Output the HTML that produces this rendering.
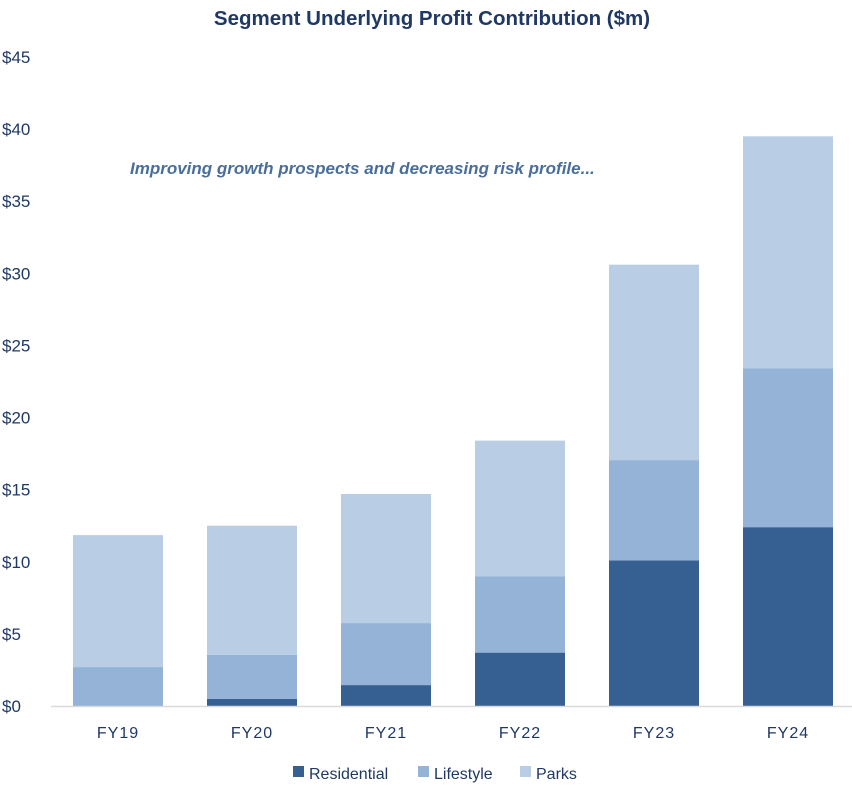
<!DOCTYPE html>
<html><head><meta charset="utf-8"><style>
body{margin:0;background:#fff;font-family:"Liberation Sans",sans-serif}
</style></head><body>
<svg id="c" width="852" height="794" xmlns="http://www.w3.org/2000/svg">
<text x="432" y="25" text-anchor="middle" font-size="20.5" font-weight="bold" fill="#1f3864">Segment Underlying Profit Contribution ($m)</text>
<text x="130" y="174" font-size="17" font-weight="bold" font-style="italic" fill="#4a6e9c">Improving growth prospects and decreasing risk profile...</text>
</svg>
<script>
const categories=["FY19","FY20","FY21","FY22","FY23","FY24"];
const residential=[0,0.5,1.45,3.7,10.1,12.4];
const lifestyle=[2.7,3.05,4.3,5.3,6.95,11.0];
const parks=[9.15,8.95,8.95,9.4,13.55,16.1];
const yTicks=[0,5,10,15,20,25,30,35,40,45];
const yTickLabels=["$0","$5","$10","$15","$20","$25","$30","$35","$40","$45"];
const NS="http://www.w3.org/2000/svg",svg=document.getElementById('c');
const y0=706,pxPer=649/45,bandX0=51,band=134,barW=90;
const y=v=>y0-v*pxPer;
const xc=i=>bandX0+band*i+band/2;
function mk(t,a){const e=document.createElementNS(NS,t);for(const k in a)e.setAttribute(k,a[k]);svg.appendChild(e);return e;}
yTicks.forEach((v,i)=>{const t=mk('text',{x:2,y:y(v)+6,'font-size':17,fill:'#1f3864'});t.textContent=yTickLabels[i];

});
const series=[["residential",residential,"#376092"],["lifestyle",lifestyle,"#95b3d7"],["parks",parks,"#b9cde5"]];
categories.forEach((c,i)=>{let base=0;
series.forEach(([n,arr,col])=>{const v=arr[i];if(v>0){const r=mk('rect',{x:xc(i)-barW/2,y:y(base+v),width:barW,height:v*pxPer,fill:col});

}base+=v;});
const t=mk('text',{x:xc(i),y:738,'text-anchor':'middle','font-size':16,fill:'#1f3864','letter-spacing':'1'});t.textContent=c;

});
const ax=mk('line',{x1:51,x2:852,y1:y0+0.5,y2:y0+0.5,stroke:'#d9d9d9','stroke-width':1.5});


const leg=[["Residential","#376092",293],["Lifestyle","#95b3d7",418],["Parks","#b9cde5",520]];
leg.forEach(([n,col,x])=>{const g=mk('g',{});


const r=document.createElementNS(NS,'rect');r.setAttribute('x',x);r.setAttribute('y',766);r.setAttribute('width',11);r.setAttribute('height',11);r.setAttribute('fill',col);g.appendChild(r);
const t=document.createElementNS(NS,'text');t.setAttribute('x',x+16);t.setAttribute('y',779);t.setAttribute('font-size',16);t.setAttribute('fill','#1f3864');t.textContent=n;g.appendChild(t);});
</script>
</body></html>
